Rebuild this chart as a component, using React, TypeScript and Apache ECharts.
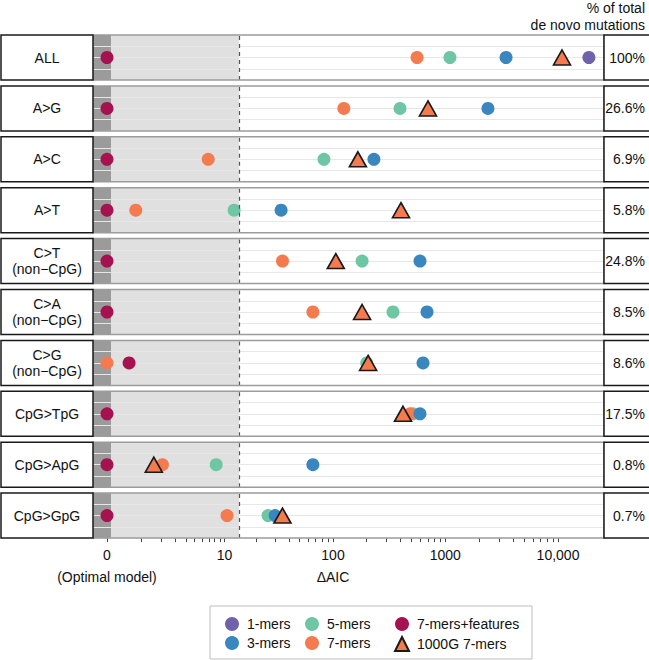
import React, { useEffect, useRef } from "react";
import * as echarts from "echarts";

// ---------- data ----------
const ROW_LABELS = [
  "ALL",
  "A>G",
  "A>C",
  "A>T",
  "C>T\n(non\u2212CpG)",
  "C>A\n(non\u2212CpG)",
  "C>G\n(non\u2212CpG)",
  "CpG>TpG",
  "CpG>ApG",
  "CpG>GpG",
];
const PCT_LABELS = ["100%", "26.6%", "6.9%", "5.8%", "24.8%", "8.5%", "8.6%", "17.5%", "0.8%", "0.7%"];

// ΔAIC per mutation class (null = not shown)
const ONE_MERS: (number | null)[] = [18800, null, null, null, null, null, null, null, null, null];
const THREE_MERS: (number | null)[] = [3460, 2390, 232, 34, 596, 688, 634, 596, 66, 30];
const FIVE_MERS: (number | null)[] = [1100, 396, 83, 12.4, 182, 343, 200, 517, 8.3, 25.8];
const SEVEN_MERS: (number | null)[] = [561, 125, 6.9, 0.8, 35, 66, 0, 486, 2.1, 10.6];
const SEVEN_MERS_FEAT: (number | null)[] = [0, 0, 0, 0, 0, 0, 0.57, 0, 0, 0];
const G1000_SEVEN_MERS: (number | null)[] = [10850, 702, 167, 404, 106, 182, 206, 421, 1.6, 35];

const TICK_VALUES = [0, 10, 100, 1000, 10000];
const TICK_LABELS = ["0", "10", "100", "1000", "10,000"];
const TICK_SUBLABELS = ["(Optimal model)", "", "\u0394AIC", "", ""];
const MINOR_TICKS = [
  0, 1, 2, 3, 4, 5, 6, 7, 8, 9, 10,
  20, 30, 40, 50, 60, 70, 80, 90, 100,
  200, 300, 400, 500, 600, 700, 800, 900, 1000,
  2000, 3000, 4000, 5000, 6000, 7000, 8000, 9000, 10000,
];
const DARK_BAND_END = 0.085; // ΔAIC
const LIGHT_BAND_END = 13.8; // ΔAIC

// ---------- layout / style ----------
const FONT = "'Liberation Sans', Arial, Helvetica, sans-serif";
const W = 649;
const PLOT_LEFT = 93;
const PLOT_RIGHT = 604;
const ROW_TOP0 = 35;
const ROW_PITCH = 50.9;
const ROW_H = 45;
const ZERO_PX = 107;
const PX_PER_UNIT = 112.75;

const tf = (v: number) => Math.log10(v + 1);
const U_MIN = (PLOT_LEFT - ZERO_PX) / PX_PER_UNIT;
const U_MAX = (PLOT_RIGHT - ZERO_PX) / PX_PER_UNIT;

const MODELS = [
  { name: "5-mers", values: FIVE_MERS, color: "#6fc6a4", symbol: "circle", size: 13, z: 4 },
  { name: "7-mers", values: SEVEN_MERS, color: "#f47a4f", symbol: "circle", size: 13, z: 4 },
  { name: "3-mers", values: THREE_MERS, color: "#3a86be", symbol: "circle", size: 13, z: 4 },
  { name: "1-mers", values: ONE_MERS, color: "#7061ab", symbol: "circle", size: 13, z: 4 },
  { name: "7-mers+features", values: SEVEN_MERS_FEAT, color: "#a5124f", symbol: "circle", size: 13, z: 4 },
  { name: "1000G 7-mers", values: G1000_SEVEN_MERS, color: "#f47a4f", symbol: "triangle", size: [17, 15], z: 5, border: true },
];

function buildOption() {
  const n = ROW_LABELS.length;
  const grids: any[] = [];
  const xAxes: any[] = [];
  const yAxes: any[] = [];
  const series: any[] = [];
  const graphics: any[] = [];
  const labelU = TICK_VALUES.map(tf);

  for (let i = 0; i < n; i++) {
    const top = ROW_TOP0 + i * ROW_PITCH;
    const last = i === n - 1;
    grids.push({ left: PLOT_LEFT, width: PLOT_RIGHT - PLOT_LEFT, top, height: ROW_H, show: false });
    xAxes.push({
      type: "value",
      gridIndex: i,
      min: U_MIN,
      max: U_MAX,
      axisLine: { show: false },
      splitLine: { show: false },
      axisTick: {
        show: last,
        customValues: MINOR_TICKS.map(tf),
        length: 4,
        inside: false,
        lineStyle: { color: "#444", width: 1 },
      },
      axisLabel: {
        show: last,
        customValues: labelU,
        margin: 6,
        fontSize: 14,
        fontFamily: FONT,
        color: "#111",
        lineHeight: 22,
        formatter: (val: number) => {
          const idx = labelU.findIndex((u) => Math.abs(u - val) < 1e-6);
          if (idx < 0) return "";
          const sub = TICK_SUBLABELS[idx];
          return sub ? TICK_LABELS[idx] + "\n" + sub : TICK_LABELS[idx];
        },
      },
    });
    yAxes.push({
      type: "value",
      gridIndex: i,
      min: 0,
      max: 4,
      interval: 1,
      z: 2,
      axisLine: { show: false },
      axisTick: { show: false },
      axisLabel: { show: false },
      splitLine: { show: true, showMinLine: false, showMaxLine: false, lineStyle: { color: "#e7e7e7", width: 1 } },
    });

    // shading + dashed threshold
    series.push({
      type: "line",
      xAxisIndex: i,
      yAxisIndex: i,
      data: [[0, -5]],
      symbol: "none",
      silent: true,
      z: 1,
      lineStyle: { opacity: 0 },
      markArea: {
        silent: true,
        data: [
          [{ xAxis: U_MIN, itemStyle: { color: "#9b9b9b" } }, { xAxis: tf(DARK_BAND_END) }],
          [{ xAxis: tf(DARK_BAND_END), itemStyle: { color: "#e0e0e0" } }, { xAxis: tf(LIGHT_BAND_END) }],
        ],
      },
      markLine: {
        silent: true,
        symbol: "none",
        label: { show: false },
        lineStyle: { type: [4, 4], color: "#555", width: 1.2 },
        data: [{ xAxis: tf(LIGHT_BAND_END) }],
      },
    });

    for (const m of MODELS) {
      const v = m.values[i];
      series.push({
        type: "scatter",
        name: m.name,
        xAxisIndex: i,
        yAxisIndex: i,
        z: m.z,
        symbol: m.symbol,
        symbolSize: m.size,
        itemStyle: m.border
          ? { color: m.color, borderColor: "#1a1a1a", borderWidth: 1.6, opacity: 1 }
          : { color: m.color, opacity: 1 },
        data: v === null ? [] : [[tf(v), 2]],
      });
    }

    // boxes
    graphics.push({
      type: "rect",
      z: 50,
      shape: { x: PLOT_LEFT, y: top, width: PLOT_RIGHT - PLOT_LEFT, height: ROW_H },
      style: { fill: "none", stroke: "#9c9c9c", lineWidth: 1.5 },
      silent: true,
    });
    graphics.push({
      type: "rect",
      z: 60,
      shape: { x: 1, y: top, width: PLOT_LEFT - 1, height: ROW_H },
      style: { fill: "#fff", stroke: "#1a1a1a", lineWidth: 1.5 },
      silent: true,
    });
    graphics.push({
      type: "rect",
      z: 60,
      shape: { x: PLOT_RIGHT, y: top, width: 50, height: ROW_H },
      style: { fill: "#fff", stroke: "#1a1a1a", lineWidth: 1.5 },
      silent: true,
    });
    graphics.push({
      type: "text",
      z: 70,
      x: 47,
      y: top + ROW_H / 2,
      style: {
        text: ROW_LABELS[i],
        fontSize: 14,
        fontFamily: FONT,
        fill: "#111",
        lineHeight: 16,
        textAlign: "center",
        textVerticalAlign: "middle",
        align: "center",
        verticalAlign: "middle",
      },
      silent: true,
    });
    graphics.push({
      type: "text",
      z: 70,
      x: 645,
      y: top + ROW_H / 2,
      style: {
        text: PCT_LABELS[i],
        fontSize: 14,
        fontFamily: FONT,
        fill: "#111",
        textAlign: "right",
        textVerticalAlign: "middle",
        align: "right",
        verticalAlign: "middle",
      },
      silent: true,
    });
  }

  // header
  graphics.push({
    type: "text",
    z: 70,
    x: 645,
    y: 16,
    style: {
      text: "% of total\nde novo mutations",
      fontSize: 14,
      fontFamily: FONT,
      fill: "#111",
      lineHeight: 17,
      textAlign: "right",
      textVerticalAlign: "middle",
      align: "right",
      verticalAlign: "middle",
    },
    silent: true,
  });
  // legend frame
  graphics.push({
    type: "rect",
    z: 0,
    shape: { x: 210, y: 606, width: 322, height: 53 },
    style: { fill: "#fff", stroke: "#bdbdbd", lineWidth: 1 },
    silent: true,
  });

  const legendBase = {
    orient: "vertical",
    top: 617,
    height: 40,
    padding: 0,
    itemGap: 5,
    itemWidth: 14,
    itemHeight: 14,
    selectedMode: false,
    textStyle: { fontSize: 14, fontFamily: FONT, color: "#111", padding: [0, 0, 0, 3] },
  };
  const legends = [
    { ...legendBase, left: 225, data: ["1-mers", "3-mers"] },
    { ...legendBase, left: 305, data: ["5-mers", "7-mers"] },
    { ...legendBase, left: 394, data: ["7-mers+features", "1000G 7-mers"] },
  ];

  return {
    animation: false,
    backgroundColor: "#fff",
    textStyle: { fontFamily: FONT },
    grid: grids,
    xAxis: xAxes,
    yAxis: yAxes,
    legend: legends,
    series,
    graphic: graphics,
  };
}

export default function App() {
  const ref = useRef<HTMLDivElement>(null);
  useEffect(() => {
    if (!ref.current) return;
    const chart = echarts.init(ref.current, null, { renderer: "svg" });
    chart.setOption(buildOption() as any);
    return () => chart.dispose();
  }, []);
  return <div ref={ref} style={{ position: "absolute", left: 0, top: 0, width: W, height: 660 }} />;
}
